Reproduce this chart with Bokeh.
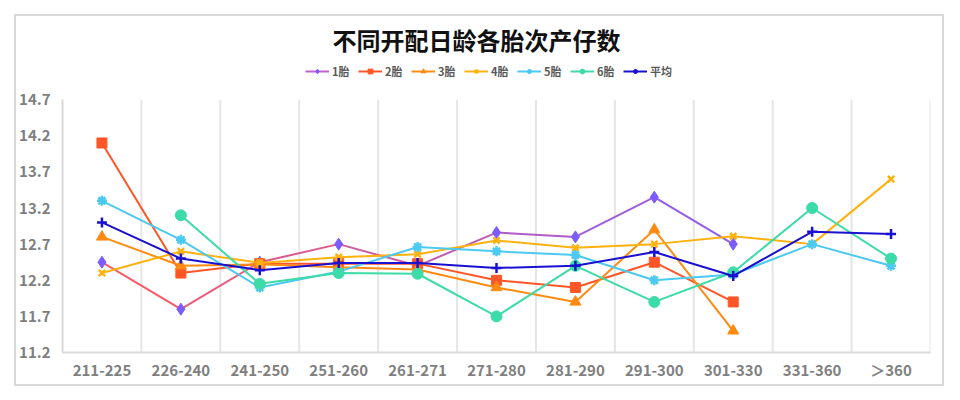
import math
from bokeh.plotting import figure
from bokeh.models import FixedTicker, Legend, LegendItem
from bokeh.embed import file_html
from bokeh.resources import INLINE

categories = ["211-225", "226-240", "241-250", "251-260", "261-271", "271-280",
              "281-290", "291-300", "301-330", "331-360", "＞360"]
nan = float("nan")
parity1 = [12.45, 11.8, 12.45, 12.7, 12.4, 12.86, 12.8, 13.35, 12.7, nan, nan]
parity2 = [14.1, 12.3, 12.43, 12.43, 12.43, 12.2, 12.1, 12.45, 11.9, nan, nan]
parity3 = [12.8, 12.4, 12.42, 12.38, 12.35, 12.1, 11.9, 12.9, 11.5, nan, nan]
parity4 = [12.3, 12.6, 12.44, 12.52, 12.56, 12.75, 12.65, 12.7, 12.81, 12.7, 13.6]
parity5 = [13.3, 12.76, 12.1, 12.32, 12.66, 12.6, 12.55, 12.2, 12.28, 12.7, 12.4]
parity6 = [nan, 13.1, 12.15, 12.3, 12.29, 11.7, 12.4, 11.9, 12.31, 13.2, 12.5]
average = [13.0, 12.5, 12.34, 12.44, 12.44, 12.37, 12.4, 12.59, 12.26, 12.87, 12.84]
series_names = ["1胎", "2胎", "3胎", "4胎", "5胎", "6胎", "平均"]
y_ticks = [11.2, 11.7, 12.2, 12.7, 13.2, 13.7, 14.2, 14.7]
y_tick_labels = ["11.2", "11.7", "12.2", "12.7", "13.2", "13.7", "14.2", "14.7"]
title_text = "不同开配日龄各胎次产仔数"

FONT = "Noto Sans CJK SC"
xs = list(range(len(categories)))
Y_HEADROOM = 0.5417  # space above the axis for the legend (in axis units)

p = figure(width=930, height=372, x_range=(-0.5, len(categories) - 0.5),
           y_range=(y_ticks[0], y_ticks[-1] + Y_HEADROOM),
           output_backend="svg", toolbar_location=None,
           min_border_left=46, min_border_right=16, min_border_bottom=36, min_border_top=40,
           styles={"border": "2px solid #d9d9d9", "margin-left": "14px", "margin-top": "14px"})
p.outline_line_color = None
p.background_fill_color = "white"

p.title.text = title_text
p.title.align = "left"
p.title.offset = 270
p.title.text_font = FONT
p.title.text_font_size = "24px"
p.title.text_font_style = "bold"
p.title.text_color = "#111111"
p.title.standoff = 7

p.yaxis.ticker = FixedTicker(ticks=y_ticks)
p.yaxis.major_label_overrides = {t: l for t, l in zip(y_ticks, y_tick_labels)}
p.yaxis.bounds = (y_ticks[0], y_ticks[-1])
p.xaxis.ticker = FixedTicker(ticks=xs)
p.xaxis.major_label_overrides = {i: c for i, c in zip(xs, categories)}
for ax in (p.xaxis, p.yaxis):
    ax.major_tick_line_color = None
    ax.minor_tick_line_color = None
    ax.axis_line_color = "#d9d9d9"
    ax.axis_line_width = 2
    ax.major_label_text_font = FONT
    ax.major_label_text_font_style = "bold"
    ax.major_label_text_color = "#7f7f7f"
    ax.major_label_text_font_size = "15px"
p.xaxis.major_label_standoff = 0
p.yaxis.major_label_standoff = 6

p.xgrid.visible = False
p.ygrid.visible = False
bounds_x = [i + 0.5 for i in xs]
p.segment(x0=bounds_x, y0=[y_ticks[0]] * len(bounds_x), x1=bounds_x, y1=[y_ticks[-1]] * len(bounds_x),
          line_color="#e6e6e6", line_width=2, level="underlay")

def hexlerp(c1, c2, t):
    a = [int(c1[i:i + 2], 16) for i in (1, 3, 5)]
    b = [int(c2[i:i + 2], 16) for i in (1, 3, 5)]
    return "#%02x%02x%02x" % tuple(int(round(a[k] + (b[k] - a[k]) * t)) for k in range(3))

items = []
x0, y0, x1, y1, cols = [], [], [], [], []
n1 = sum(1 for v in parity1 if not math.isnan(v))
for i in range(len(xs) - 1):
    if not (math.isnan(parity1[i]) or math.isnan(parity1[i + 1])):
        x0.append(xs[i]); y0.append(parity1[i]); x1.append(xs[i + 1]); y1.append(parity1[i + 1])
        cols.append(hexlerp("#ff5a5f", "#8c5cf7", (i + 0.5) / (n1 - 1)))
seg = p.segment(x0=x0, y0=y0, x1=x1, y1=y1, line_color=cols, line_width=2)
leg_line1 = p.line(x=[0], y=[nan], line_color="#c55fd0", line_width=2)
sc = p.scatter(xs, parity1, marker="diamond", size=12, color="#7b5cff")
items.append(LegendItem(label=series_names[0], renderers=[leg_line1, sc]))

specs = [
    (parity2, "#ff5627", "square", 10),
    (parity3, "#ff8a12", "triangle", 11),
    (parity4, "#ffb20f", "x", 9),
    (parity5, "#4cc9f0", "asterisk", 10),
    (parity6, "#3ddba8", "circle", 11),
    (average, "#1a10cf", "cross", 10),
]
for (vals, col, mk, sz), name in zip(specs, series_names[1:]):
    ln = p.line(xs, vals, line_color=col, line_width=2)
    if mk in ("x", "asterisk", "cross"):
        s = p.scatter(xs, vals, marker=mk, size=sz, line_color=col, line_width=2.5)
    else:
        s = p.scatter(xs, vals, marker=mk, size=sz, color=col)
    items.append(LegendItem(label=name, renderers=[ln, s]))

legend = Legend(items=items, orientation="horizontal", location=(243, 273),
                label_text_font=FONT, label_text_font_size="11px", label_text_font_style="bold",
                label_text_color="#595959", glyph_width=24, glyph_height=12, spacing=6,
                label_standoff=3, border_line_color=None, background_fill_alpha=0,
                padding=2, margin=0)
p.add_layout(legend, "center")

open("out.html", "w").write(file_html(p, INLINE))
